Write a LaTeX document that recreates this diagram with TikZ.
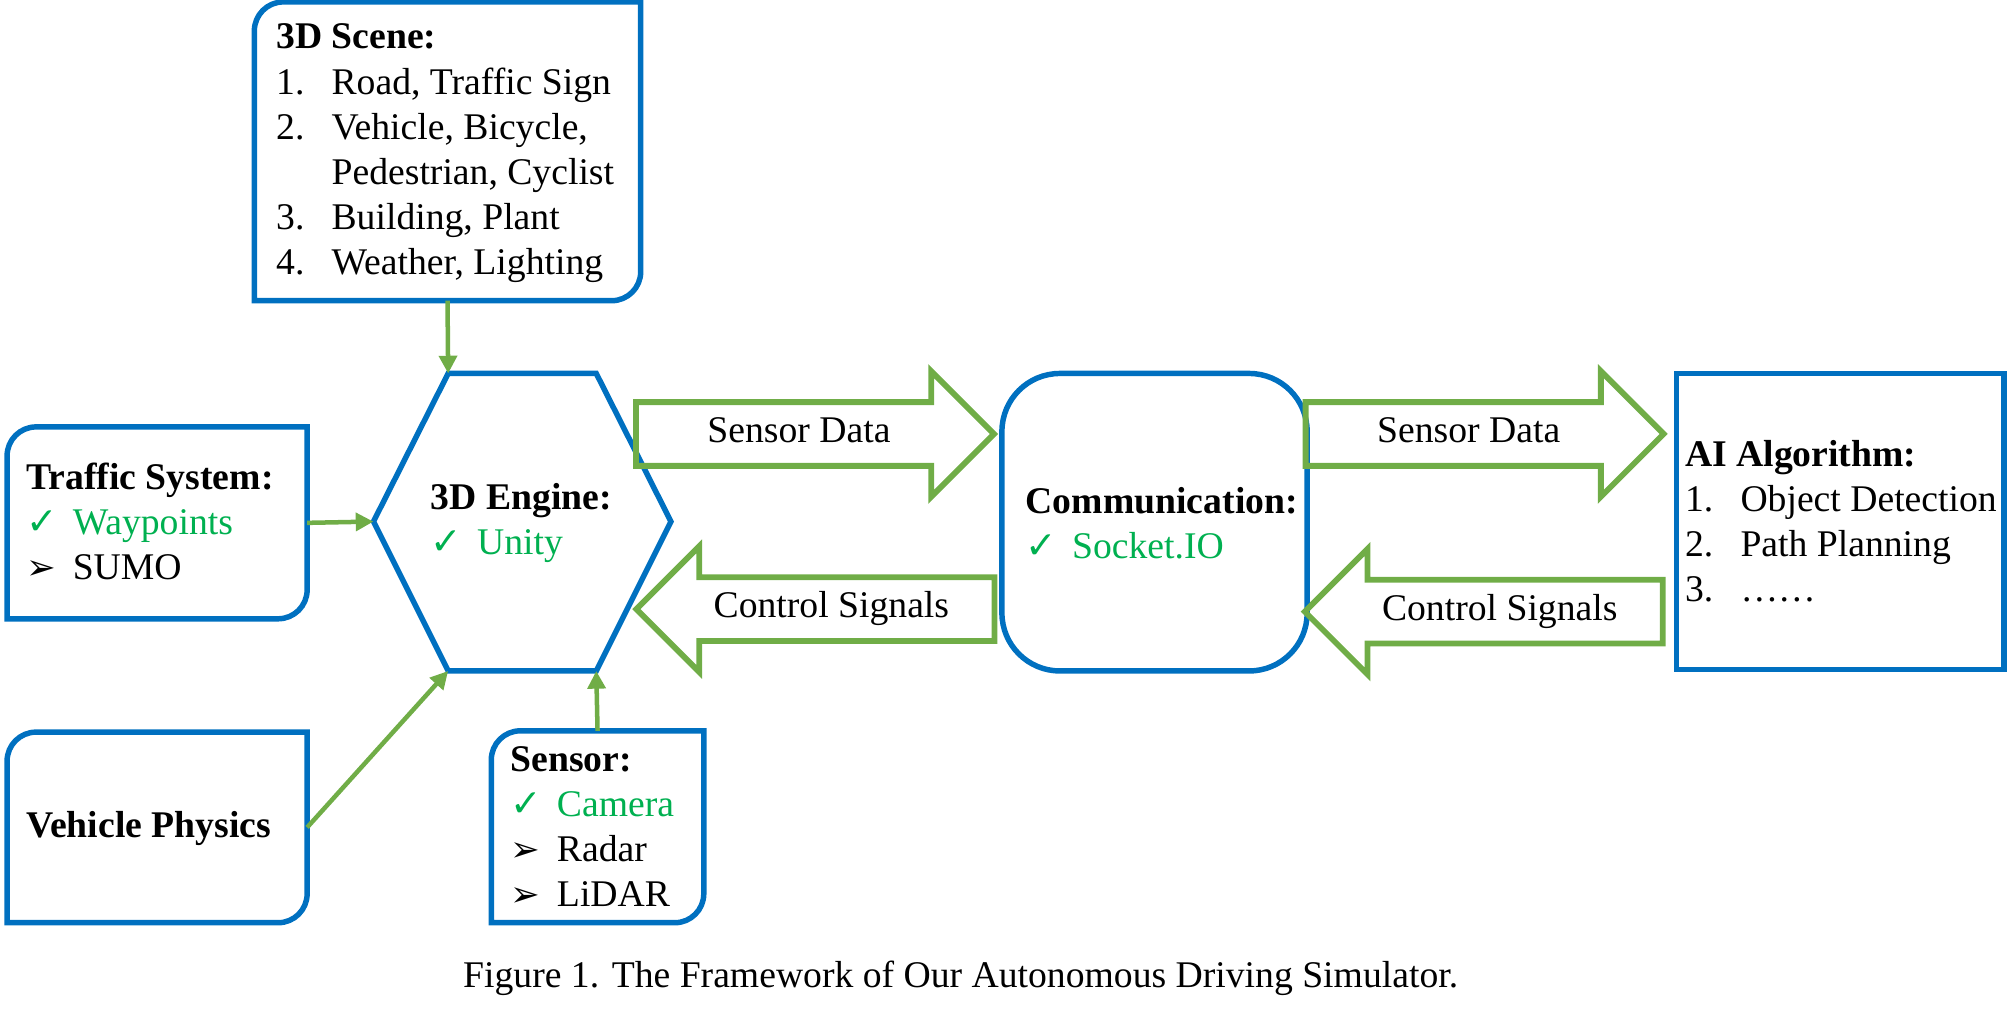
\documentclass[tikz,border=0pt]{standalone}
\usepackage{fontspec}
\setmainfont{Liberation Serif}
\newfontfamily\symfont{DejaVu Sans}
\usetikzlibrary{arrows.meta,shapes.arrows,fit}

\definecolor{boxblue}{RGB}{0,112,192}
\definecolor{arrowgreen}{RGB}{112,173,71}
\definecolor{textgreen}{RGB}{0,176,80}

\newcommand{\ok}[1]{\textcolor{textgreen}{\makebox[14.4pt][l]{\symfont ✓}#1}}
\newcommand{\more}[1]{\makebox[14.4pt][l]{\symfont\fontsize{11}{14}\selectfont ➢}#1}
\newcommand{\itm}[2]{\makebox[17.2pt][l]{#1}#2}

\tikzset{
  frame/.style={draw=boxblue, line width=1.7pt},
  link/.style={draw=arrowgreen, line width=1.4pt, -{Triangle[length=5.5pt,width=5.5pt]}},
  bigarrow/.style={single arrow, draw=arrowgreen, line width=1.8pt, single arrow head extend=9.6pt,
    inner xsep=4pt, inner ysep=3.75pt, text height=8pt, text depth=2.5pt, minimum height=111.2pt,
    font=\fontsize{11.7}{14}\selectfont, anchor=tip},
  txt/.style={align=left, inner sep=0pt, font=\fontsize{11.7}{14}\selectfont},
}

% box with round top-left and bottom-right corners
\newcommand{\diagbox}[3]{%
  \node[fit={#2 #3}, inner sep=0pt] (#1) {};
  \draw[frame] ([yshift=-9pt]#1.north west) arc[start angle=180, end angle=90, radius=9pt]
    -- (#1.north east) -- ([yshift=9pt]#1.south east)
    arc[start angle=0, end angle=-90, radius=9pt] -- (#1.south west) -- cycle;
}

\begin{document}
\begin{tikzpicture}[x=0.4pt, y=-0.4pt]
  \useasboundingbox (0,0) rectangle (1560,791);

  % scene
  \diagbox{scene}{(198,2)}{(497,233)}
  \node[txt, anchor=west] (scenetxt) at (214,119) {\textbf{3D Scene:}\\
    \itm{1.}{Road, Traffic Sign}\\ \itm{2.}{Vehicle, Bicycle,}\\ \itm{}{Pedestrian, Cyclist}\\
    \itm{3.}{Building, Plant}\\ \itm{4.}{Weather, Lighting}};

  % engine
  \coordinate (hexTL) at (348,290);
  \coordinate (hexTR) at (463,290);
  \coordinate (hexR) at (521,405);
  \coordinate (hexBR) at (463,521);
  \coordinate (hexBL) at (348,521);
  \coordinate (hexL) at (290,405);
  \draw[frame] (hexTL) -- (hexTR) -- (hexR) -- (hexBR) -- (hexBL) -- (hexL) -- cycle;
  \node[txt, anchor=west] (enginetxt) at (334,406) {\textbf{3D Engine:}\\ \ok{Unity}};

  % traffic, physics, sensor
  \diagbox{traffic}{(6,332)}{(238,480)}
  \node[txt, anchor=west] (traffictxt) at (20,405) {\textbf{Traffic System:}\\ \ok{Waypoints}\\ \more{SUMO}};

  \diagbox{physics}{(6,569)}{(238,716)}
  \node[txt, anchor=west] (physicstxt) at (20,643) {\textbf{Vehicle Physics}};

  \diagbox{sensor}{(382,568)}{(546,716)}
  \node[txt, anchor=west] (sensortxt) at (396,642) {\textbf{Sensor:}\\ \ok{Camera}\\ \more{Radar}\\ \more{LiDAR}};

  \draw[link] (scene.south) -- (hexTL);
  \draw[link] (traffic.east) -- (hexL);
  \draw[link] (physics.east) -- (hexBL);
  \draw[link] (sensor.north) -- (hexBR);

  % communication
  \node[frame, rounded corners=18pt, fit={(778,290) (1015,521)}, inner sep=0pt] (comm) {};
  \node[txt, anchor=west] (commtxt) at (796,406) {\textbf{Communication:}\\ \ok{Socket.IO}};

  % ai
  \node[frame, fit={(1302,290) (1556,520)}, inner sep=0pt] (ai) {};
  \node[txt, anchor=west] (aitxt) at (1308,405) {\textbf{AI Algorithm:}\\
    \itm{1.}{Object Detection}\\ \itm{2.}{Path Planning}\\ \itm{3.}{\dots\dots}};

  % data and control
  \node[bigarrow] (dataA) at (775,337) {Sensor Data};
  \node[bigarrow, shape border rotate=180] (ctrlA) at (491,473) {Control Signals};
  \node[bigarrow] (dataB) at (1295,337) {Sensor Data};
  \node[bigarrow, shape border rotate=180] (ctrlB) at (1010,475) {Control Signals};

  \node[txt] (caption) at (746,760) {Figure 1. The Framework of Our Autonomous Driving Simulator.};
\end{tikzpicture}
\end{document}
